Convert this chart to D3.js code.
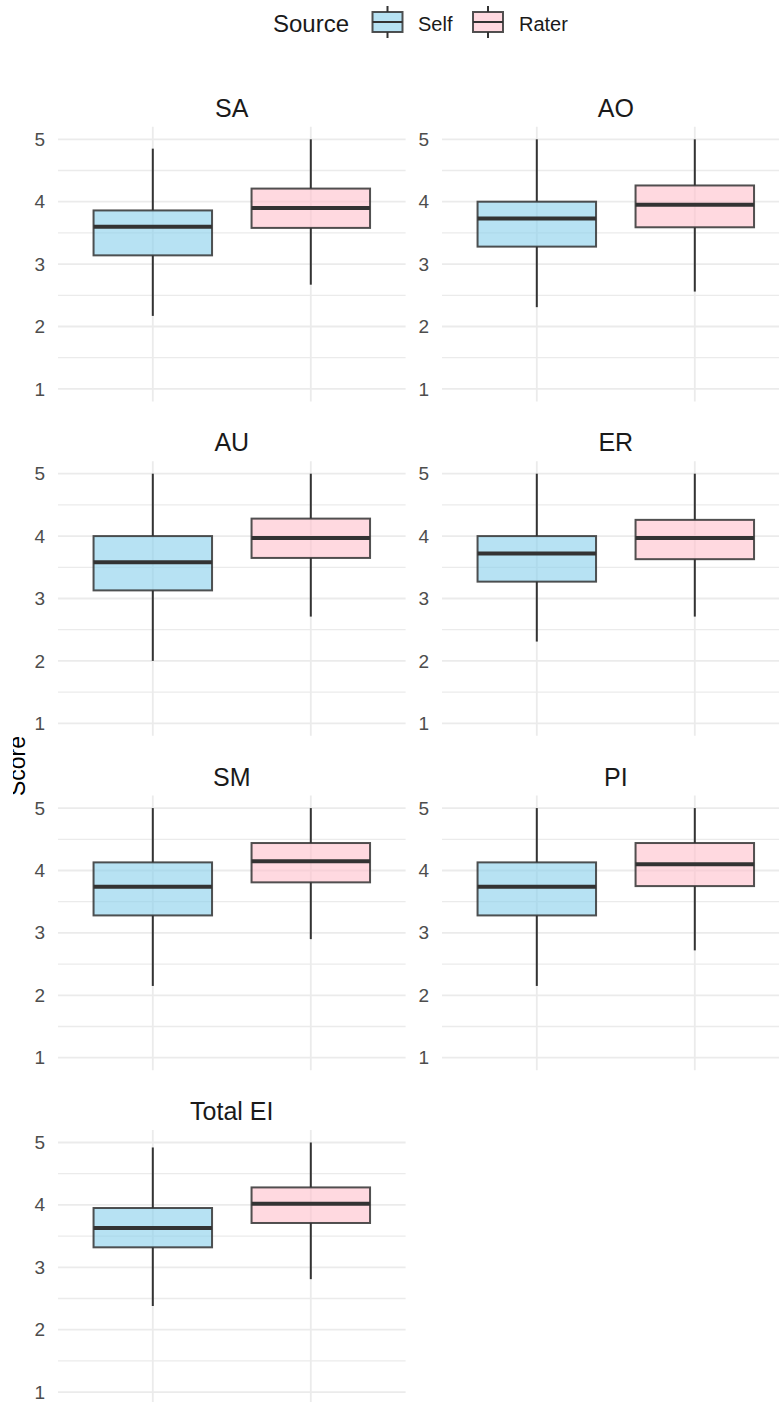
<!DOCTYPE html>
<html>
<head>
<meta charset="utf-8">
<script src="https://cdn.jsdelivr.net/npm/d3@7"></script>
<style>
  html, body { margin: 0; padding: 0; background: #ffffff; }
  svg { display: block; font-family: "Liberation Sans", Arial, sans-serif; }
</style>
</head>
<body>
<svg id="chart" width="779" height="1402"></svg>
<script>
// Facets (EI subscales) and the two rating sources
const facets = ["SA", "AO", "AU", "ER", "SM", "PI", "Total EI"];
const sources = ["Self", "Rater"];

// Five-number summaries per facet: [lower whisker, Q1, median, Q3, upper whisker]
const selfStats = [
  [2.17, 3.14, 3.60, 3.86, 4.85],
  [2.31, 3.28, 3.73, 4.00, 5.00],
  [2.00, 3.13, 3.58, 4.00, 5.00],
  [2.31, 3.27, 3.72, 4.00, 5.00],
  [2.15, 3.28, 3.74, 4.13, 5.00],
  [2.15, 3.28, 3.74, 4.13, 5.00],
  [2.38, 3.32, 3.63, 3.95, 4.92]
];
const raterStats = [
  [2.67, 3.58, 3.90, 4.21, 5.00],
  [2.56, 3.59, 3.95, 4.26, 5.00],
  [2.71, 3.65, 3.97, 4.28, 5.00],
  [2.71, 3.63, 3.97, 4.26, 5.00],
  [2.90, 3.81, 4.15, 4.44, 5.00],
  [2.72, 3.75, 4.10, 4.44, 5.00],
  [2.81, 3.71, 4.02, 4.28, 5.00]
];

const yTicks = [1, 2, 3, 4, 5];
const yMinorTicks = [1.5, 2.5, 3.5, 4.5];
const yLimits = [1, 5];

const fillColors = { Self: "#87CEEB", Rater: "#FFC0CB" };

const svg = d3.select("#chart");

// Facet grid geometry
const ncol = 2;
const panelLeft = [58, 442];
const panelWidth = 347.6;
const panelTop0 = 126.8;
const rowPitch = 334.4;
const panelHeight = 274.6;
const gridColor = "#ebebeb";
const lineColor = "#333333";

const yPad = (yLimits[1] - yLimits[0]) * 0.05;

facets.forEach((facet, i) => {
  const col = i % ncol;
  const row = Math.floor(i / ncol);
  const x0 = panelLeft[col];
  const top = panelTop0 + row * rowPitch;

  const x = d3.scalePoint().domain(sources).range([x0, x0 + panelWidth]).padding(0.6);
  const y = d3.scaleLinear().domain([yLimits[0] - yPad, yLimits[1] + yPad]).range([top + panelHeight, top]);
  const boxW = x.step() * 0.75;

  const g = svg.append("g").attr("class", "panel");

  // minor and major horizontal grid lines
  g.selectAll("line.minor").data(yMinorTicks).join("line")
    .attr("x1", x0).attr("x2", x0 + panelWidth)
    .attr("y1", d => y(d)).attr("y2", d => y(d))
    .attr("stroke", gridColor).attr("stroke-width", 1.3);
  g.selectAll("line.major").data(yTicks).join("line")
    .attr("x1", x0).attr("x2", x0 + panelWidth)
    .attr("y1", d => y(d)).attr("y2", d => y(d))
    .attr("stroke", gridColor).attr("stroke-width", 1.8);
  // vertical grid lines at each source
  g.selectAll("line.vgrid").data(sources).join("line")
    .attr("x1", d => x(d)).attr("x2", d => x(d))
    .attr("y1", top).attr("y2", top + panelHeight)
    .attr("stroke", gridColor).attr("stroke-width", 1.8);

  // y axis labels
  const axis = d3.axisLeft(y).tickValues(yTicks).tickSize(0).tickPadding(13).tickFormat(d3.format("d"));
  const ax = g.append("g").attr("transform", `translate(${x0},0)`).call(axis);
  ax.select(".domain").remove();
  ax.selectAll("text")
    .attr("fill", "#4d4d4d")
    .style("font-size", "19px")
    .style("font-family", "'Liberation Sans', Arial, sans-serif");

  // facet title
  g.append("text")
    .attr("x", x0 + panelWidth / 2)
    .attr("y", top - 10)
    .attr("text-anchor", "middle")
    .attr("fill", "#1a1a1a")
    .style("font-size", "25px")
    .text(facet);

  // boxplots
  const stats = [
    { source: "Self", s: selfStats[i] },
    { source: "Rater", s: raterStats[i] }
  ];
  const b = g.selectAll("g.box").data(stats).join("g").attr("class", "box");
  // whiskers
  b.append("line")
    .attr("x1", d => x(d.source)).attr("x2", d => x(d.source))
    .attr("y1", d => y(d.s[3])).attr("y2", d => y(d.s[4]))
    .attr("stroke", lineColor).attr("stroke-width", 2);
  b.append("line")
    .attr("x1", d => x(d.source)).attr("x2", d => x(d.source))
    .attr("y1", d => y(d.s[1])).attr("y2", d => y(d.s[0]))
    .attr("stroke", lineColor).attr("stroke-width", 2);
  // interquartile box
  b.append("rect")
    .attr("x", d => x(d.source) - boxW / 2)
    .attr("width", boxW)
    .attr("y", d => y(d.s[3]))
    .attr("height", d => y(d.s[1]) - y(d.s[3]))
    .attr("fill", d => fillColors[d.source])
    .attr("fill-opacity", 0.6)
    .attr("stroke", lineColor)
    .attr("stroke-opacity", 0.85)
    .attr("stroke-width", 2);
  // median
  b.append("line")
    .attr("x1", d => x(d.source) - boxW / 2).attr("x2", d => x(d.source) + boxW / 2)
    .attr("y1", d => y(d.s[2])).attr("y2", d => y(d.s[2]))
    .attr("stroke", lineColor).attr("stroke-width", 4);
});

// shared y axis title (its left edge is cut off by the plot border)
svg.append("defs").append("clipPath").attr("id", "titleClip")
  .append("rect").attr("x", 13).attr("y", 0).attr("width", 779).attr("height", 1402);
svg.append("g")
  .attr("clip-path", "url(#titleClip)")
  .append("text")
  .attr("transform", "translate(25,766) rotate(-90)")
  .attr("text-anchor", "middle")
  .attr("fill", "#000000")
  .style("font-size", "23px")
  .text("Score");

// legend
const legend = svg.append("g").attr("class", "legend");
legend.append("text")
  .attr("x", 273).attr("y", 32)
  .attr("fill", "#1a1a1a")
  .style("font-size", "24px")
  .text("Source");

const keySize = 40;
const keyCenters = { Self: 387.5, Rater: 488 };
const keyCy = 22;
const labelX = { Self: 418, Rater: 519 };

sources.forEach(src => {
  const cx = keyCenters[src];
  const k = legend.append("g");
  k.append("line")
    .attr("x1", cx).attr("x2", cx)
    .attr("y1", keyCy - keySize * 0.4).attr("y2", keyCy + keySize * 0.4)
    .attr("stroke", lineColor).attr("stroke-width", 2);
  k.append("rect")
    .attr("x", cx - keySize * 0.375).attr("width", keySize * 0.75)
    .attr("y", keyCy - keySize * 0.25).attr("height", keySize * 0.5)
    .attr("fill", "#ffffff");
  k.append("rect")
    .attr("x", cx - keySize * 0.375).attr("width", keySize * 0.75)
    .attr("y", keyCy - keySize * 0.25).attr("height", keySize * 0.5)
    .attr("fill", fillColors[src]).attr("fill-opacity", 0.6)
    .attr("stroke", lineColor).attr("stroke-opacity", 0.85).attr("stroke-width", 2);
  k.append("line")
    .attr("x1", cx - keySize * 0.375).attr("x2", cx + keySize * 0.375)
    .attr("y1", keyCy).attr("y2", keyCy)
    .attr("stroke", lineColor).attr("stroke-width", 2);
  legend.append("text")
    .attr("x", labelX[src]).attr("y", 31)
    .attr("fill", "#1a1a1a")
    .style("font-size", "20px")
    .text(src);
});
</script>
</body>
</html>
